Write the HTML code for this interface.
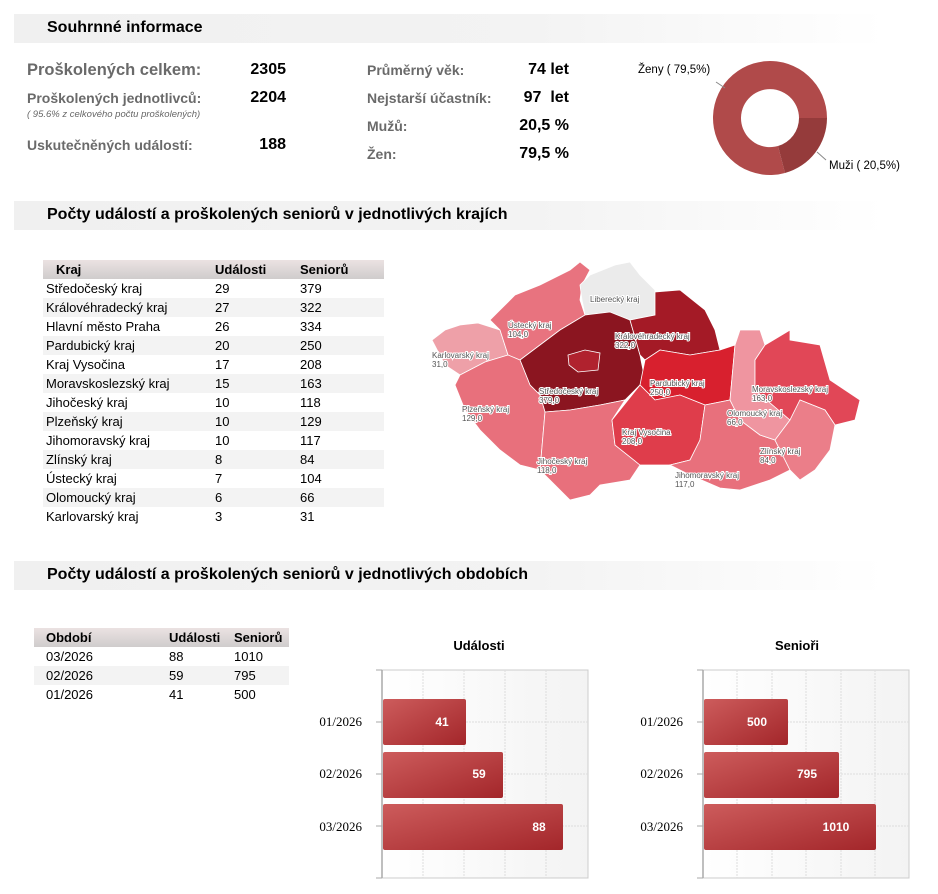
<!DOCTYPE html>
<html><head><meta charset="utf-8"><style>
body{margin:0;width:938px;height:894px;background:#fff;font-family:"Liberation Sans",Arial,sans-serif;position:relative;overflow:hidden}
.a{position:absolute;white-space:nowrap}
.hdr{position:absolute;left:14px;width:871px;height:29px;background:linear-gradient(to right,#f0f0f0 0%,#f3f3f3 60%,#fff 100%)}
.hdr span{position:absolute;left:33px;top:5px;font-size:16px;font-weight:bold;color:#000}
.lb{color:#6a6a6a;font-weight:bold}
.v{font-weight:bold;color:#000;text-align:right}
table{position:absolute;border-collapse:collapse;font-size:13px;color:#000}
th{background:linear-gradient(#ebe2e2,#cfcccc);text-align:left;font-weight:bold;height:19px;padding:0}
td{height:19px;padding:0}
tr:nth-child(odd) td{background:#f3f3f3}
</style></head><body>
<div class="hdr" style="top:14px"><span>Souhrnné informace</span></div>
<div class="hdr" style="top:201px"><span>Počty událostí a proškolených seniorů v jednotlivých krajích</span></div>
<div class="hdr" style="top:561px"><span>Počty událostí a proškolených seniorů v jednotlivých obdobích</span></div>

<div class="a lb" style="left:27px;top:61px;font-size:16.5px">Proškolených celkem:</div>
<div class="a v" style="left:226px;top:61px;width:60px;font-size:16px">2305</div>
<div class="a lb" style="left:27px;top:90px;font-size:14px">Proškolených jednotlivců:</div>
<div class="a v" style="left:226px;top:89px;width:60px;font-size:16px">2204</div>
<div class="a" style="left:27px;top:109px;font-size:9.5px;font-style:italic;color:#666">( 95.6% z celkového počtu proškolených)</div>
<div class="a lb" style="left:27px;top:137px;font-size:14px">Uskutečněných událostí:</div>
<div class="a v" style="left:226px;top:136px;width:60px;font-size:16px">188</div>

<div class="a lb" style="left:367px;top:62px;font-size:14px">Průměrný věk:</div>
<div class="a v" style="left:500px;top:61px;width:69px;font-size:16px">74 let</div>
<div class="a lb" style="left:367px;top:90px;font-size:14px">Nejstarší účastník:</div>
<div class="a v" style="left:500px;top:89px;width:69px;font-size:16px">97 &nbsp;let</div>
<div class="a lb" style="left:367px;top:118px;font-size:14px">Mužů:</div>
<div class="a v" style="left:500px;top:117px;width:69px;font-size:16px">20,5 %</div>
<div class="a lb" style="left:367px;top:146px;font-size:14px">Žen:</div>
<div class="a v" style="left:500px;top:145px;width:69px;font-size:16px">79,5 %</div>

<svg class="a" style="left:0;top:0" width="938" height="200">
<path d="M827,118 A57,57 0 1 0 785,173 L778,146 A29,29 0 1 1 799,118 Z" fill="#b04a4a"/>
<path d="M827,118 A57,57 0 0 1 785,173 L778,146 A29,29 0 0 0 799,118 Z" fill="#953b3b"/>
<line x1="716" y1="82" x2="725" y2="88" stroke="#888"/>
<line x1="817" y1="152" x2="826" y2="160" stroke="#888"/>
<text x="638" y="73" font-size="11.5" fill="#000">Ženy ( 79,5%)</text>
<text x="829" y="169" font-size="11.5" fill="#000">Muži ( 20,5%)</text>
</svg>

<table style="left:43px;top:260px;width:341px">
<tr><th style="padding-left:13px;width:159px">Kraj</th><th style="width:85px">Události</th><th>Seniorů</th></tr>
<tr><td style="padding-left:3px">Středočeský kraj</td><td>29</td><td>379</td></tr>
<tr><td style="padding-left:3px">Královéhradecký kraj</td><td>27</td><td>322</td></tr>
<tr><td style="padding-left:3px">Hlavní město Praha</td><td>26</td><td>334</td></tr>
<tr><td style="padding-left:3px">Pardubický kraj</td><td>20</td><td>250</td></tr>
<tr><td style="padding-left:3px">Kraj Vysočina</td><td>17</td><td>208</td></tr>
<tr><td style="padding-left:3px">Moravskoslezský kraj</td><td>15</td><td>163</td></tr>
<tr><td style="padding-left:3px">Jihočeský kraj</td><td>10</td><td>118</td></tr>
<tr><td style="padding-left:3px">Plzeňský kraj</td><td>10</td><td>129</td></tr>
<tr><td style="padding-left:3px">Jihomoravský kraj</td><td>10</td><td>117</td></tr>
<tr><td style="padding-left:3px">Zlínský kraj</td><td>8</td><td>84</td></tr>
<tr><td style="padding-left:3px">Ústecký kraj</td><td>7</td><td>104</td></tr>
<tr><td style="padding-left:3px">Olomoucký kraj</td><td>6</td><td>66</td></tr>
<tr><td style="padding-left:3px">Karlovarský kraj</td><td>3</td><td>31</td></tr>
</table>

<svg class="a" style="left:0;top:0" width="938" height="560">
<g stroke="#fff" stroke-width="0.8">
<polygon fill="#eea0a8" points="432,340 445,330 460,325 478,323 500,330 508,355 485,362 460,375 445,365"/>
<polygon fill="#e8737f" points="490,320 500,310 515,295 540,285 570,270 580,262 590,270 582,285 580,300 585,315 560,330 540,345 520,360 508,355 500,330"/>
<polygon fill="#ebebeb" points="580,285 590,275 615,265 630,262 640,275 655,290 655,315 630,320 610,312 585,315 582,300"/>
<polygon fill="#8b1520" points="520,360 540,345 560,330 585,315 610,312 630,320 640,355 645,380 625,400 600,405 570,410 545,412 540,395 530,385"/>
<polygon fill="#a41a26" points="630,320 655,315 655,292 680,290 705,310 715,330 720,350 690,355 660,350 645,360 640,355"/>
<polygon fill="#d8202e" points="645,360 660,350 690,355 720,350 735,345 730,400 705,405 680,395 655,400 640,385"/>
<polygon fill="#e8707c" points="460,375 485,362 508,355 520,360 530,385 540,395 545,412 540,470 520,465 500,450 480,430 465,410 455,385"/>
<polygon fill="#e8707c" points="545,412 570,410 600,405 625,400 612,420 615,445 640,465 630,480 600,485 590,495 570,500 560,490 540,470"/>
<polygon fill="#df3d4b" points="612,420 640,385 655,400 680,395 705,405 700,440 690,460 670,465 640,465 615,445"/>
<polygon fill="#e8707c" points="705,405 730,400 740,420 760,435 775,440 790,470 770,480 740,490 720,488 690,475 670,465 690,460 700,440"/>
<polygon fill="#ef95a0" points="730,400 735,345 740,330 760,330 765,345 755,360 755,390 790,420 775,440 760,435 740,420"/>
<polygon fill="#e14757" points="755,360 765,345 790,330 790,340 820,345 830,380 860,400 855,420 835,425 825,410 800,400 790,420 755,390"/>
<polygon fill="#eb7e89" points="790,420 800,400 825,410 835,425 830,450 815,470 800,480 790,470 775,440"/>
<polygon fill="#b0222e" points="568,355 585,350 600,353 598,370 578,372 569,365"/>
</g>
<g font-size="8" fill="#555" stroke="#fff" stroke-width="2" paint-order="stroke">
<text x="590" y="302">Liberecký kraj</text>
<text x="508" y="328">Ústecký kraj</text><text x="508" y="337">104,0</text>
<text x="432" y="358">Karlovarský kraj</text><text x="432" y="367">31,0</text>
<text x="615" y="339">Královéhradecký kraj</text><text x="615" y="348">322,0</text>
<text x="539" y="394">Středočeský kraj</text><text x="539" y="403">379,0</text>
<text x="650" y="386">Pardubický kraj</text><text x="650" y="395">250,0</text>
<text x="462" y="412">Plzeňský kraj</text><text x="462" y="421">129,0</text>
<text x="622" y="435">Kraj Vysočina</text><text x="622" y="444">208,0</text>
<text x="537" y="464">Jihočeský kraj</text><text x="537" y="473">118,0</text>
<text x="675" y="478">Jihomoravský kraj</text><text x="675" y="487">117,0</text>
<text x="752" y="392">Moravskoslezský kraj</text><text x="752" y="401">163,0</text>
<text x="727" y="416">Olomoucký kraj</text><text x="727" y="425">66,0</text>
<text x="760" y="454">Zlínský kraj</text><text x="760" y="463">84,0</text>
</g>
</svg>

<table style="left:34px;top:628px;width:255px">
<tr><th style="padding-left:12px;width:123px">Období</th><th style="width:65px">Události</th><th>Seniorů</th></tr>
<tr><td style="padding-left:12px">03/2026</td><td>88</td><td>1010</td></tr>
<tr><td style="padding-left:12px">02/2026</td><td>59</td><td>795</td></tr>
<tr><td style="padding-left:12px">01/2026</td><td>41</td><td>500</td></tr>
</table>

<svg class="a" style="left:0;top:600px" width="938" height="294">
<defs><linearGradient id="g" x1="0" y1="0" x2="1" y2="1"><stop offset="0" stop-color="#cd5c5c"/><stop offset="1" stop-color="#a3262a"/></linearGradient>
<linearGradient id="bg" x1="0" x2="1"><stop offset="0" stop-color="#fff"/><stop offset="1" stop-color="#f3f3f3"/></linearGradient></defs>
<g font-family="Liberation Sans" font-weight="bold" font-size="13" text-anchor="middle">
<text x="479" y="50">Události</text><text x="797" y="50">Senioři</text></g>
<!-- chart1 -->
<rect x="382" y="70" width="206" height="208" fill="url(#bg)" stroke="#ccc"/>
<g stroke="#ddd" stroke-dasharray="2,1"><line x1="423" y1="70" x2="423" y2="278"/><line x1="464" y1="70" x2="464" y2="278"/><line x1="505" y1="70" x2="505" y2="278"/><line x1="546" y1="70" x2="546" y2="278"/>
<line x1="382" y1="122" x2="588" y2="122"/><line x1="382" y1="174" x2="588" y2="174"/><line x1="382" y1="226" x2="588" y2="226"/></g>
<line x1="382" y1="70" x2="382" y2="278" stroke="#aaa" stroke-width="1.5"/>
<g stroke="#aaa"><line x1="376" y1="70" x2="382" y2="70"/><line x1="376" y1="122" x2="382" y2="122"/><line x1="376" y1="174" x2="382" y2="174"/><line x1="376" y1="226" x2="382" y2="226"/><line x1="376" y1="278" x2="382" y2="278"/></g>
<rect x="383" y="99" width="83" height="46" rx="2" fill="url(#g)"/>
<rect x="383" y="152" width="120" height="46" rx="2" fill="url(#g)"/>
<rect x="383" y="204" width="180" height="46" rx="2" fill="url(#g)"/>
<!-- chart2 -->
<rect x="703" y="70" width="206" height="208" fill="url(#bg)" stroke="#ccc"/>
<g stroke="#ddd" stroke-dasharray="2,1"><line x1="737" y1="70" x2="737" y2="278"/><line x1="772" y1="70" x2="772" y2="278"/><line x1="806" y1="70" x2="806" y2="278"/><line x1="841" y1="70" x2="841" y2="278"/><line x1="875" y1="70" x2="875" y2="278"/>
<line x1="703" y1="122" x2="909" y2="122"/><line x1="703" y1="174" x2="909" y2="174"/><line x1="703" y1="226" x2="909" y2="226"/></g>
<line x1="703" y1="70" x2="703" y2="278" stroke="#aaa" stroke-width="1.5"/>
<g stroke="#aaa"><line x1="697" y1="70" x2="703" y2="70"/><line x1="697" y1="122" x2="703" y2="122"/><line x1="697" y1="174" x2="703" y2="174"/><line x1="697" y1="226" x2="703" y2="226"/><line x1="697" y1="278" x2="703" y2="278"/></g>
<rect x="704" y="99" width="84" height="46" rx="2" fill="url(#g)"/>
<rect x="704" y="152" width="135" height="46" rx="2" fill="url(#g)"/>
<rect x="704" y="204" width="172" height="46" rx="2" fill="url(#g)"/>
<g font-family="Liberation Serif" font-size="13" fill="#000" text-anchor="end">
<text x="362" y="126">01/2026</text><text x="362" y="178">02/2026</text><text x="362" y="231">03/2026</text>
<text x="683" y="126">01/2026</text><text x="683" y="178">02/2026</text><text x="683" y="231">03/2026</text></g>
<g font-size="12" font-weight="bold" fill="#fff" text-anchor="middle">
<text x="442" y="126">41</text><text x="479" y="178">59</text><text x="539" y="231">88</text>
<text x="757" y="126">500</text><text x="807" y="178">795</text><text x="836" y="231">1010</text></g>
</svg>
</body></html>
